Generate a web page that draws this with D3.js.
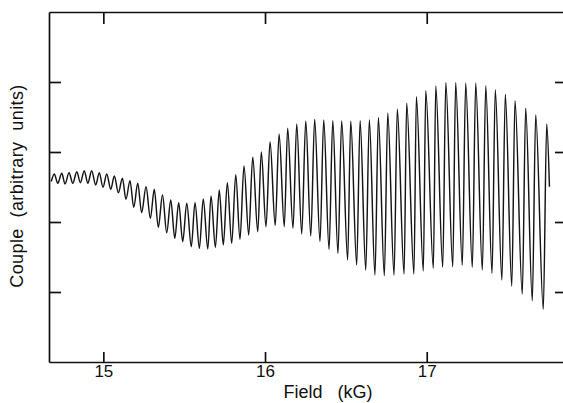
<!DOCTYPE html>
<html>
<head>
<meta charset="utf-8">
<script src="https://cdn.jsdelivr.net/npm/d3@7"></script>
<style>
  body { margin: 0; background: #fff; }
</style>
</head>
<body>
<script>
// oscillation maxima (field in kG, couple in arbitrary units)
var peakField = [14.697, 14.743, 14.788, 14.836, 14.882, 14.928, 14.975, 15.021, 15.068, 15.118,
  15.165, 15.213, 15.264, 15.315, 15.366, 15.417, 15.466, 15.516, 15.567, 15.618,
  15.666, 15.717, 15.767, 15.819, 15.870, 15.924, 15.977, 16.031, 16.087, 16.140,
  16.196, 16.252, 16.307, 16.363, 16.419, 16.474, 16.530, 16.588, 16.645, 16.701,
  16.759, 16.818, 16.876, 16.936, 16.994, 17.056, 17.118, 17.179, 17.241, 17.303,
  17.365, 17.424, 17.486, 17.546, 17.612, 17.674, 17.742];
var peakCouple = [2.686, 2.696, 2.704, 2.719, 2.733, 2.733, 2.704, 2.686, 2.657, 2.624,
  2.590, 2.553, 2.504, 2.467, 2.386, 2.314, 2.276, 2.267, 2.276, 2.329,
  2.371, 2.457, 2.561, 2.676, 2.800, 2.924, 3.000, 3.147, 3.257, 3.339,
  3.400, 3.443, 3.467, 3.457, 3.447, 3.443, 3.439, 3.447, 3.457, 3.490,
  3.553, 3.610, 3.696, 3.790, 3.876, 3.943, 3.990, 3.990, 3.981, 3.981,
  3.943, 3.886, 3.821, 3.733, 3.624, 3.529, 3.400];

// oscillation minima
var troughField = [14.718, 14.763, 14.811, 14.858, 14.904, 14.953, 14.998, 15.046, 15.093, 15.140,
  15.188, 15.237, 15.291, 15.340, 15.392, 15.442, 15.491, 15.544, 15.594, 15.646,
  15.693, 15.742, 15.794, 15.845, 15.899, 15.955, 16.006, 16.063, 16.119, 16.173,
  16.227, 16.283, 16.340, 16.396, 16.451, 16.511, 16.567, 16.623, 16.680, 16.738,
  16.798, 16.860, 16.921, 16.979, 17.041, 17.099, 17.161, 17.220, 17.282, 17.344,
  17.404, 17.465, 17.526, 17.591, 17.653, 17.721];
var troughCouple = [2.553, 2.543, 2.553, 2.561, 2.553, 2.529, 2.496, 2.467, 2.419, 2.324,
  2.210, 2.133, 2.053, 1.924, 1.847, 1.767, 1.719, 1.647, 1.624, 1.614,
  1.639, 1.671, 1.696, 1.753, 1.814, 1.861, 1.933, 1.950, 1.933, 1.910,
  1.829, 1.800, 1.719, 1.610, 1.553, 1.457, 1.386, 1.314, 1.243, 1.233,
  1.243, 1.257, 1.257, 1.300, 1.339, 1.353, 1.361, 1.381, 1.353, 1.314,
  1.267, 1.171, 1.086, 0.971, 0.876, 0.753];

// where the pen starts and stops
var traceEnds = [[14.678, 2.579], [17.759, 2.504]];

// axis ticks
var fieldTicks = [15, 16, 17];
var coupleTicks = [1, 2, 3, 4];

var width = 563;
var height = 403;

var svg = d3.select("body")
  .append("svg")
  .attr("width", width)
  .attr("height", height);

// scales
var x = d3.scaleLinear().domain([14.664, 17.849]).range([49, 564]);
var y = d3.scaleLinear().domain([0, 5]).range([362, 12]);

// put peaks and troughs into one trace sorted by field
var trace = [traceEnds[0]];
peakField.forEach(function (f, i) { trace.push([f, peakCouple[i]]); });
troughField.forEach(function (f, i) { trace.push([f, troughCouple[i]]); });
trace.push(traceEnds[1]);
trace.sort(function (a, b) { return a[0] - b[0]; });

// frame and ticks, all pointing inward
var bottom = svg.append("g")
  .attr("transform", "translate(0," + y(0) + ")")
  .call(d3.axisBottom(x).tickValues(fieldTicks).tickSizeInner(-10).tickSizeOuter(0).tickPadding(3).tickFormat(d3.format("d")));

svg.append("g")
  .attr("transform", "translate(0," + y(5) + ")")
  .call(d3.axisTop(x).tickValues(fieldTicks).tickSizeInner(-12).tickSizeOuter(0).tickFormat(""));

svg.append("g")
  .attr("transform", "translate(" + x.range()[0] + ",0)")
  .call(d3.axisLeft(y).tickValues(coupleTicks).tickSizeInner(-12).tickSizeOuter(0).tickFormat(""));

svg.append("g")
  .attr("transform", "translate(" + x.range()[1] + ",0)")
  .call(d3.axisRight(y).tickValues(coupleTicks).tickSizeInner(-9).tickSizeOuter(0).tickFormat(""));

svg.selectAll(".domain, .tick line")
  .attr("stroke", "#111")
  .attr("stroke-width", 1.7);

bottom.selectAll(".tick text")
  .attr("font-family", "Liberation Sans, Arial, sans-serif")
  .attr("font-size", "17px")
  .attr("fill", "#111");

// the trace itself
var line = d3.line()
  .x(function (d) { return x(d[0]); })
  .y(function (d) { return y(d[1]); })
  .curve(d3.curveMonotoneX);

svg.append("path")
  .datum(trace)
  .attr("d", line)
  .attr("fill", "none")
  .attr("stroke", "#151515")
  .attr("stroke-width", 1.45)
  .attr("stroke-linejoin", "round");

// axis titles
svg.append("text")
  .attr("x", 328)
  .attr("y", 398)
  .attr("text-anchor", "middle")
  .attr("font-family", "Liberation Sans, Arial, sans-serif")
  .attr("font-size", "18px")
  .attr("fill", "#111")
  .style("white-space", "pre")
  .text("Field   (kG)");

svg.append("text")
  .attr("transform", "translate(23,186) rotate(-90)")
  .attr("text-anchor", "middle")
  .attr("font-family", "Liberation Sans, Arial, sans-serif")
  .attr("font-size", "18px")
  .attr("letter-spacing", "0.4px")
  .attr("fill", "#111")
  .style("white-space", "pre")
  .text("Couple  (arbitrary  units)");
</script>
</body>
</html>
